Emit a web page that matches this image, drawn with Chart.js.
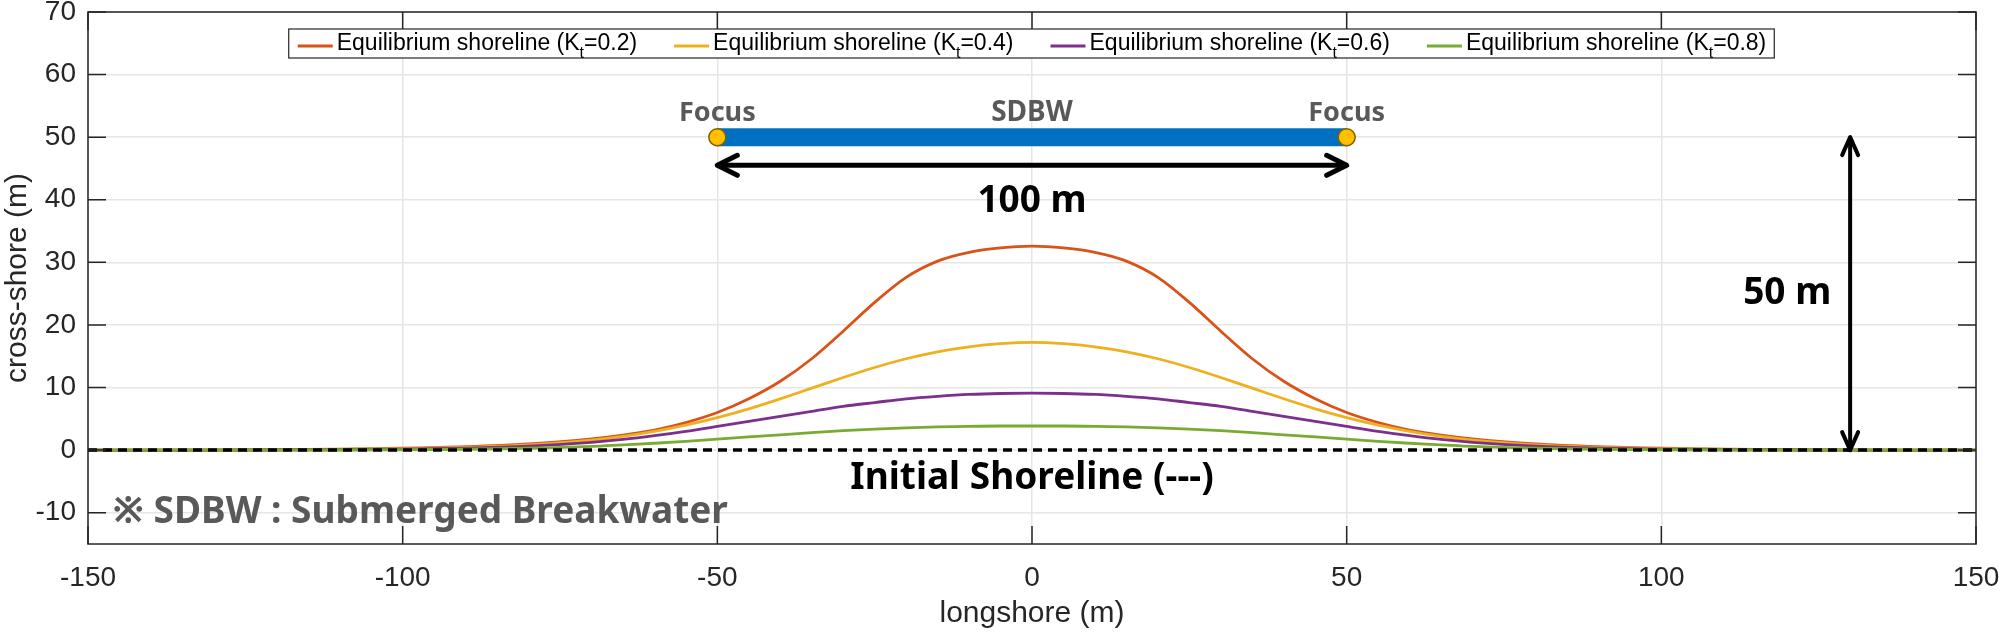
<!DOCTYPE html>
<html>
<head>
<meta charset="utf-8">
<script src="https://cdn.jsdelivr.net/npm/chart.js@4.4.1/dist/chart.umd.min.js"></script>
<style>
  html, body { margin: 0; padding: 0; background: #fff; }
  canvas { display: block; }
</style>
</head>
<body>
<canvas id="shoreCanvas" width="2000" height="633"></canvas>
<script>
// === Data ===
const longshore = [-150, -140, -130, -120, -110, -100, -90, -80, -70, -65, -60, -55, -50, -45, -40, -35, -30, -25, -20, -15, -10, -5,
  0, 5, 10, 15, 20, 25, 30, 35, 40, 45, 50, 55, 60, 65, 70, 80, 90, 100, 110, 120, 130, 140, 150];

const shoreKt02 = [0, 0.01, 0.03, 0.07, 0.15, 0.3, 0.55, 1.0, 1.8, 2.4, 3.2, 4.4, 6.0, 8.2, 11.0, 14.6, 19.0, 23.6, 27.6, 30.2, 31.6, 32.3,
  32.6, 32.3, 31.6, 30.2, 27.6, 23.6, 19.0, 14.6, 11.0, 8.2, 6.0, 4.4, 3.2, 2.4, 1.8, 1.0, 0.55, 0.3, 0.15, 0.07, 0.03, 0.01, 0];
const shoreKt04 = [0, 0, 0.01, 0.04, 0.1, 0.22, 0.45, 0.85, 1.6, 2.2, 3.0, 4.0, 5.2, 6.6, 8.2, 9.9, 11.6, 13.2, 14.6, 15.7, 16.5, 17.0,
  17.2, 17.0, 16.5, 15.7, 14.6, 13.2, 11.6, 9.9, 8.2, 6.6, 5.2, 4.0, 3.0, 2.2, 1.6, 0.85, 0.45, 0.22, 0.1, 0.04, 0.01, 0, 0];
const shoreKt06 = [0, 0, 0, 0.02, 0.06, 0.15, 0.32, 0.65, 1.25, 1.7, 2.3, 3.0, 3.8, 4.6, 5.4, 6.2, 7.0, 7.6, 8.2, 8.6, 8.9, 9.05,
  9.1, 9.05, 8.9, 8.6, 8.2, 7.6, 7.0, 6.2, 5.4, 4.6, 3.8, 3.0, 2.3, 1.7, 1.25, 0.65, 0.32, 0.15, 0.06, 0.02, 0, 0, 0];
const shoreKt08 = [0, 0, 0, 0, 0.02, 0.06, 0.14, 0.3, 0.6, 0.85, 1.1, 1.4, 1.75, 2.1, 2.45, 2.8, 3.1, 3.35, 3.55, 3.7, 3.8, 3.85,
  3.85, 3.85, 3.8, 3.7, 3.55, 3.35, 3.1, 2.8, 2.45, 2.1, 1.75, 1.4, 1.1, 0.85, 0.6, 0.3, 0.14, 0.06, 0.02, 0, 0, 0, 0];

const ktValues = ['0.2', '0.4', '0.6', '0.8'];
const ktColors = ['#D95319', '#EDB120', '#7E2F8E', '#77AC30'];

const initialX = [-150, 150];
const initialY = [0, 0];
const breakwaterX = [-50, 50];
const breakwaterY = [50, 50];

const xTicks = [-150, -100, -50, 0, 50, 100, 150];
const yTicks = [-10, 0, 10, 20, 30, 40, 50, 60, 70];

// === Helpers ===
const toPoints = (xv, yv) => xv.map((x, i) => ({ x, y: yv[i] }));
const AX = '#262626';
const GREY = '#595959';
const SANS = '"Liberation Sans", Arial, sans-serif';
const BOLD = '"Noto Sans", "Noto Sans CJK KR", sans-serif';

function arrowHead(ctx, tx, ty, dx, dy, len, spread) {
  ctx.beginPath();
  ctx.moveTo(tx - dx * len - dy * spread, ty - dy * len + dx * spread);
  ctx.lineTo(tx, ty);
  ctx.lineTo(tx - dx * len + dy * spread, ty - dy * len - dx * spread);
  ctx.stroke();
}

function text(ctx, str, x, y, font, color, align) {
  ctx.font = font;
  ctx.fillStyle = color;
  ctx.textAlign = align || 'center';
  ctx.textBaseline = 'alphabetic';
  ctx.fillText(str, x, y);
}

// === Annotations (arrows, labels, box, legend) ===
const annotationPlugin = {
  id: 'annotations',
  afterDatasetsDraw(chart) {
    const { ctx, scales: { x, y } } = chart;
    ctx.save();

    // 100 m double arrow
    const ay = y.getPixelForValue(45.5);
    const ax1 = x.getPixelForValue(-50), ax2 = x.getPixelForValue(50);
    ctx.strokeStyle = '#000';
    ctx.lineWidth = 5;
    ctx.lineCap = 'round';
    ctx.lineJoin = 'round';
    ctx.beginPath(); ctx.moveTo(ax1 + 2, ay); ctx.lineTo(ax2 - 2, ay); ctx.stroke();
    arrowHead(ctx, ax2, ay, 1, 0, 20, 10);
    arrowHead(ctx, ax1, ay, -1, 0, 20, 10);

    // 50 m double arrow
    const vx = x.getPixelForValue(130);
    const vy1 = y.getPixelForValue(0), vy2 = y.getPixelForValue(50);
    ctx.lineWidth = 4;
    ctx.beginPath(); ctx.moveTo(vx, vy1 - 2); ctx.lineTo(vx, vy2 + 2); ctx.stroke();
    arrowHead(ctx, vx, vy2, 0, -1, 18, 8);
    arrowHead(ctx, vx, vy1, 0, 1, 18, 8);

    // labels
    const fLabel = 'bold 27px ' + BOLD;
    text(ctx, 'Focus', x.getPixelForValue(-50), y.getPixelForValue(52.6), fLabel, GREY);
    text(ctx, 'Focus', x.getPixelForValue(50), y.getPixelForValue(52.6), fLabel, GREY);
    text(ctx, 'SDBW', x.getPixelForValue(0), y.getPixelForValue(52.6), 'bold 28px ' + BOLD, GREY);
    text(ctx, '100 m', x.getPixelForValue(0), y.getPixelForValue(38.1), 'bold 37px ' + BOLD, '#000');
    text(ctx, '50 m', x.getPixelForValue(120), y.getPixelForValue(23.3), 'bold 37px ' + BOLD, '#000');
    text(ctx, 'Initial Shoreline (---)', x.getPixelForValue(0), y.getPixelForValue(-6.2), 'bold 37px ' + BOLD, '#000');
    text(ctx, '※ SDBW : Submerged Breakwater', x.getPixelForValue(-146.1), y.getPixelForValue(-11.6), 'bold 37px ' + BOLD, GREY, 'left');

    ctx.restore();
  },

  afterDraw(chart) {
    const { ctx, chartArea: a, scales: { x, y } } = chart;
    ctx.save();

    // axes box with inward ticks
    ctx.strokeStyle = AX;
    ctx.lineWidth = 1.5;
    ctx.strokeRect(a.left, a.top, a.right - a.left, a.bottom - a.top);
    ctx.beginPath();
    xTicks.forEach(v => {
      const px = x.getPixelForValue(v);
      ctx.moveTo(px, a.bottom); ctx.lineTo(px, a.bottom - 18);
      ctx.moveTo(px, a.top); ctx.lineTo(px, a.top + 18);
    });
    yTicks.forEach(v => {
      const py = y.getPixelForValue(v);
      ctx.moveTo(a.left, py); ctx.lineTo(a.left + 18, py);
      ctx.moveTo(a.right, py); ctx.lineTo(a.right - 18, py);
    });
    ctx.stroke();

    // axis titles
    ctx.font = '30px ' + SANS;
    ctx.fillStyle = AX;
    ctx.textAlign = 'center';
    ctx.textBaseline = 'middle';
    ctx.fillText('longshore (m)', (a.left + a.right) / 2, 614);
    ctx.save();
    ctx.translate(18, (a.top + a.bottom) / 2);
    ctx.rotate(-Math.PI / 2);
    ctx.fillText('cross-shore (m)', 0, 0);
    ctx.restore();

    // legend with subscript t
    const main = '23px ' + SANS, sub = '16px ' + SANS;
    const parts = ktValues.map(k => {
      ctx.font = main;
      const w1 = ctx.measureText('Equilibrium shoreline (K').width;
      const w3 = ctx.measureText('=' + k + ')').width;
      ctx.font = sub;
      const w2 = ctx.measureText('t').width;
      return { k, w1, w2, w3, w: w1 + w2 + w3 };
    });
    const lineLen = 35, lineGap = 4, itemGap = 37;
    const total = parts.reduce((s, p) => s + lineLen + lineGap + p.w, 0) + itemGap * (parts.length - 1);
    const cx = (a.left + a.right) / 2;
    let lx = cx - total / 2;
    const boxTop = 29, boxBot = 58;
    ctx.fillStyle = '#fff';
    ctx.fillRect(lx - 9, boxTop, total + 17, boxBot - boxTop);
    ctx.strokeStyle = AX;
    ctx.lineWidth = 1.2;
    ctx.strokeRect(lx - 9, boxTop, total + 17, boxBot - boxTop);
    ctx.textAlign = 'left';
    ctx.textBaseline = 'alphabetic';
    parts.forEach((p, i) => {
      ctx.strokeStyle = ktColors[i];
      ctx.lineWidth = 3;
      ctx.beginPath(); ctx.moveTo(lx, 46); ctx.lineTo(lx + lineLen, 46); ctx.stroke();
      let tx = lx + lineLen + lineGap;
      ctx.fillStyle = '#000';
      ctx.font = main; ctx.fillText('Equilibrium shoreline (K', tx, 50);
      ctx.font = sub; ctx.fillText('t', tx + p.w1, 58);
      ctx.font = main; ctx.fillText('=' + p.k + ')', tx + p.w1 + p.w2, 50);
      lx = tx + p.w + itemGap;
    });

    ctx.restore();
  }
};

// === Datasets ===
const curveSets = [shoreKt02, shoreKt04, shoreKt06, shoreKt08].map((ys, i) => ({
  label: 'Equilibrium shoreline (Kt=' + ktValues[i] + ')',
  data: toPoints(longshore, ys),
  borderColor: ktColors[i],
  borderWidth: 2.8,
  pointRadius: 0,
  cubicInterpolationMode: 'monotone',
  order: 4 - i
}));

const datasets = [
  {
    label: 'Initial Shoreline',
    data: toPoints(initialX, initialY),
    borderColor: '#000',
    borderWidth: 3.5,
    borderDash: [9, 6],
    pointRadius: 0,
    order: 0
  },
  {
    label: 'SDBW',
    data: toPoints(breakwaterX, breakwaterY),
    borderColor: '#0070C0',
    borderWidth: 18,
    borderCapStyle: 'butt',
    pointRadius: 8.5,
    pointBackgroundColor: '#FFC000',
    pointBorderColor: '#7F6000',
    pointBorderWidth: 1.5,
    order: 0
  },
  ...curveSets
];

// === Chart ===
const ctx = document.getElementById('shoreCanvas').getContext('2d');
const chart = new Chart(ctx, {
  type: 'line',
  data: { datasets },
  plugins: [annotationPlugin],
  options: {
    responsive: false,
    animation: false,
    devicePixelRatio: 1,
    layout: { padding: { left: 0, right: 24, top: 12, bottom: 0 } },
    plugins: { legend: { display: false }, tooltip: { enabled: false } },
    scales: {
      x: {
        type: 'linear',
        min: -150,
        max: 150,
        afterBuildTicks: s => { s.ticks = xTicks.map(v => ({ value: v })); },
        afterFit: s => { s.height = 89; s.paddingLeft = 0; s.paddingRight = 0; },
        grid: { color: '#e6e6e6', lineWidth: 1.5, drawTicks: false },
        border: { display: false },
        ticks: { font: { family: SANS, size: 28 }, color: AX, padding: 17, maxRotation: 0 }
      },
      y: {
        type: 'linear',
        min: -15,
        max: 70,
        afterBuildTicks: s => { s.ticks = yTicks.map(v => ({ value: v })); },
        afterFit: s => { s.width = 88; s.paddingTop = 0; s.paddingBottom = 0; },
        grid: { color: '#e6e6e6', lineWidth: 1.5, drawTicks: false },
        border: { display: false },
        ticks: { font: { family: SANS, size: 28 }, color: AX, padding: 12 }
      }
    }
  }
});
</script>
</body>
</html>
